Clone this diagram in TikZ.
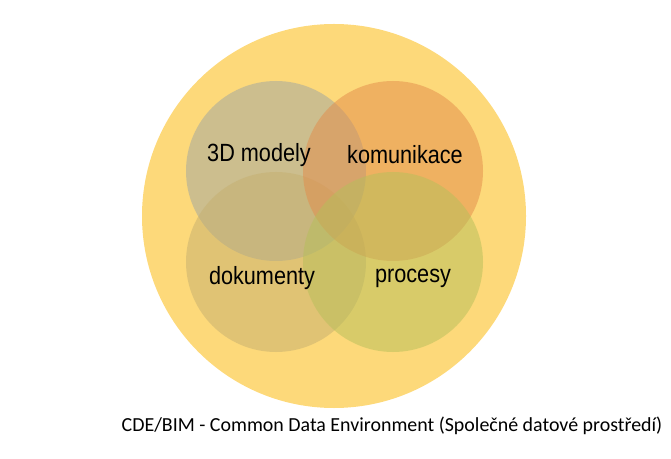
\documentclass[tikz,border=0pt]{standalone}
\usepackage{fontspec}
\setmainfont{Liberation Sans}[FakeStretch=0.87]
\newfontfamily\captionfont{Carlito}
\definecolor{cdeyellow}{RGB}{253,217,122}
\definecolor{modelgray}{RGB}{157,165,162}
\definecolor{commorange}{RGB}{227,139,74}
\definecolor{doctan}{RGB}{197,175,112}
\definecolor{procolive}{RGB}{181,191,90}
\begin{document}
\begin{tikzpicture}
	[x=1bp,y=-1bp,
	 every node/.style={inner sep=0,outer sep=0},
	 area/.style={circle,minimum size=180bp,fill opacity=0.5},
	 areaname/.style={font=\fontsize{25}{28}\selectfont,text=black}]
	\useasboundingbox (0,0) rectangle (671,459);
	\node (cde) [circle, fill=cdeyellow, minimum size=384bp] at (334,216) {};
	\node (models) [area, fill=modelgray] at (276,171) {};
	\node (docs) [area, fill=doctan] at (276,262) {};
	\node (comm) [area, fill=commorange] at (393,171) {};
	\node (proc) [area, fill=procolive] at (393,262) {};
	\node (modelsname) [areaname] at (259,155) {3D modely};
	\node (commname) [areaname] at (405,155) {komunikace};
	\node (docsname) [areaname] at (262,278) {dokumenty};
	\node (procname) [areaname] at (413,278) {procesy};
	\node (caption) [font=\captionfont\fontsize{20}{24}\selectfont] at (392,426)
		{CDE/BIM - Common Data Environment (Společné datové prostředí)};
\end{tikzpicture}
\end{document}
